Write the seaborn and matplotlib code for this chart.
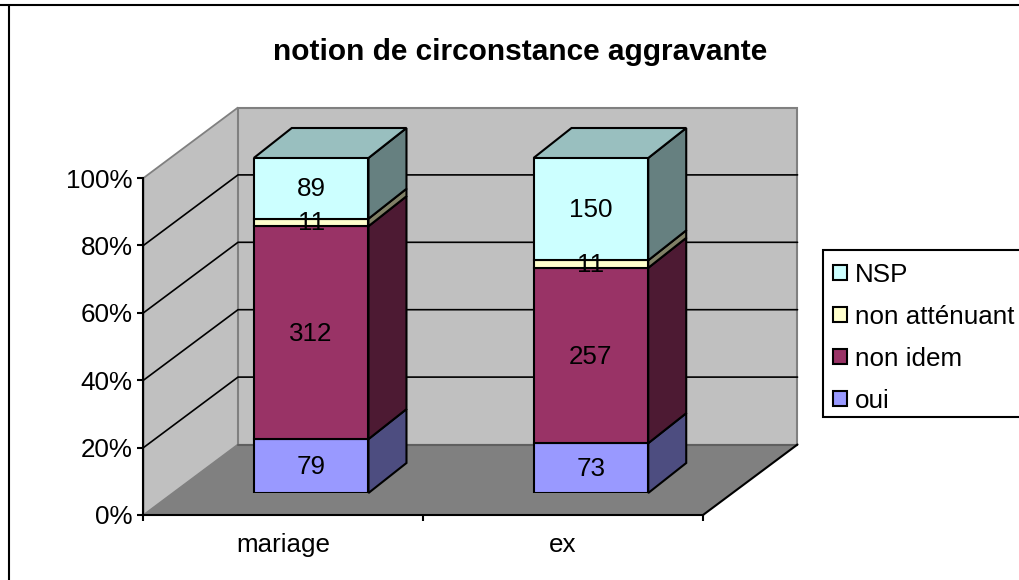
import numpy as np
import matplotlib
matplotlib.use('Agg')
import matplotlib.pyplot as plt
from matplotlib.patches import Polygon, Patch, Rectangle
import seaborn as sns

# --- DATA ---
categories = ['mariage', 'ex']
series_names = ['oui', 'non idem', 'non atténuant', 'NSP']
oui = [79, 73]
non_idem = [312, 257]
non_attenuant = [11, 11]
nsp = [89, 150]
y_ticks = [0, 20, 40, 60, 80, 100]

# --- STYLE ---
colors = ['#9999FF', '#993366', '#FFFFCC', '#CCFFFF']
W, H = 1020, 580
WALL_DX, WALL_DY = 94.5, 70.5    # px depth of the walls
BAR_DX, BAR_DY = 38, 30          # px depth of the bars
FONT = 18.7

sns.set_theme(style='white')
plt.rcParams['font.family'] = ['Liberation Sans', 'DejaVu Sans']


def px_axes(fig, left, right, top, bottom, **kw):
    """Add an axes using pixel edges measured from the top left."""
    return fig.add_axes([left / W, 1 - bottom / H, (right - left) / W, (bottom - top) / H], **kw)


def shade(color, factor):
    return tuple(c * factor for c in matplotlib.colors.to_rgb(color))


fig = plt.figure(figsize=(W / 100, H / 100), dpi=100, facecolor='white')

# --- WALLS, FLOOR, AXES (front plane of the box) ---
ax = px_axes(fig, 143.5, 703, 178, 515, zorder=1)
ax.patch.set_visible(False)
ax.set_xlim(-0.5, 1.5)
ax.set_ylim(0, 100)
dx = WALL_DX / (559.5 / 2)
dy = WALL_DY / 3.37

left_wall = [(-0.5, 0), (-0.5 + dx, dy), (-0.5 + dx, 100 + dy), (-0.5, 100)]
back_wall = [(-0.5 + dx, dy), (1.5 + dx, dy), (1.5 + dx, 100 + dy), (-0.5 + dx, 100 + dy)]
floor = [(-0.5, 0), (1.5, 0), (1.5 + dx, dy), (-0.5 + dx, dy)]
ax.add_patch(Polygon(left_wall, fc='#C0C0C0', ec='#808080', lw=1.3, clip_on=False, zorder=1))
ax.add_patch(Polygon(back_wall, fc='#C0C0C0', ec='#808080', lw=1.5, clip_on=False, zorder=1))
ax.add_patch(Polygon(floor, fc='#808080', ec='none', clip_on=False, zorder=1.5))
ax.plot([-0.5 + dx, 1.5 + dx], [dy, dy], color='#5F5F5F', lw=1.5, clip_on=False, zorder=1.6)
ax.plot([1.5, 1.5 + dx], [0, dy], color='black', lw=1.5, clip_on=False, zorder=1.6)
for v in y_ticks[1:-1]:
    ax.plot([-0.5, -0.5 + dx, 1.5 + dx], [v, v + dy, v + dy], color='black', lw=1.2,
            clip_on=False, zorder=1.7)

sns.despine(ax=ax)
for side in ['left', 'bottom']:
    ax.spines[side].set_color('black')
    ax.spines[side].set_linewidth(1.5)
    ax.spines[side].set_zorder(2)
ax.set_yticks(y_ticks)
ax.set_yticklabels([f'{v}%' for v in y_ticks], fontsize=FONT, color='black')
ax.set_xticks([-0.5, 0.5, 1.5])
ax.set_xticklabels([])
ax.set_xticks([0, 1], minor=True)
ax.set_xticklabels(categories, minor=True, fontsize=FONT, color='black')
ax.tick_params(axis='y', which='major', left=True, length=4, width=1.5, color='black', pad=4)
ax.tick_params(axis='x', which='major', bottom=True, length=4, width=1.5, color='black')
ax.tick_params(axis='x', which='minor', bottom=False, length=0, pad=13)

# --- BARS (front plane of the bars) ---
ax_bars = px_axes(fig, 171.25, 730.75, 158, 493, zorder=2)
ax_bars.patch.set_visible(False)

counts = np.array([oui, non_idem, non_attenuant, nsp], dtype=float)
pct = counts / counts.sum(axis=0) * 100
bottom = np.zeros(len(categories))
for i, name in enumerate(series_names):
    sns.barplot(x=categories, y=pct[i], bottom=bottom, color=colors[i], saturation=1,
                width=0.41, edgecolor='black', linewidth=1.5, ax=ax_bars, zorder=3)
    bottom = bottom + pct[i]

ax_bars.set_xlim(-0.5, 1.5)
ax_bars.set_ylim(0, 100)
bdx = BAR_DX / (559.5 / 2)
bdy = BAR_DY / 3.35

for n, bar in enumerate(ax_bars.patches):
    i, j = n // len(categories), n % len(categories)
    x0, y0, w, h = bar.get_x(), bar.get_y(), bar.get_width(), bar.get_height()
    side = [(x0 + w, y0), (x0 + w + bdx, y0 + bdy), (x0 + w + bdx, y0 + h + bdy), (x0 + w, y0 + h)]
    ax_bars.add_patch(Polygon(side, fc=shade(colors[i], 0.5), ec='black', lw=1.5,
                              clip_on=False, zorder=2))
    if i == len(series_names) - 1:
        top = [(x0, y0 + h), (x0 + w, y0 + h), (x0 + w + bdx, y0 + h + bdy), (x0 + bdx, y0 + h + bdy)]
        ax_bars.add_patch(Polygon(top, fc=shade(colors[i], 0.75), ec='black', lw=1.5,
                                  clip_on=False, zorder=2))
    ax_bars.text(x0 + w / 2, y0 + h / 2 - 0.3, f'{counts[i][j]:.0f}', ha='center', va='center',
                 fontsize=FONT, color='black', zorder=5)
ax_bars.axis('off')

# --- TITLE, LEGEND, CHART FRAME ---
fig.text(520 / W, 1 - 51.5 / H, 'notion de circonstance aggravante', ha='center', va='center',
         fontsize=21.5, fontweight='bold', color='black')

# legend box runs off the right edge, so its frame is drawn apart from the entries
fig.add_artist(Rectangle((823 / W, 1 - 417 / H), 210 / W, 167 / H, transform=fig.transFigure,
                         fc='white', ec='black', lw=1.5, zorder=1))
handles = [Patch(fc=colors[i], ec='black', lw=1.5, label=series_names[i]) for i in range(3, -1, -1)]
leg = fig.legend(handles=handles, loc='upper left', bbox_to_anchor=(823 / W, 1 - 253 / H),
                 borderaxespad=0, fontsize=FONT, frameon=False,
                 handlelength=0.54, handleheight=0.54, handletextpad=0.32,
                 labelspacing=0.69, borderpad=0.38)
for text in leg.get_texts():
    text.set_color('black')

fig.add_artist(plt.Line2D([0, 1], [1 - 4.5 / H, 1 - 4.5 / H], color='black', lw=1.5))
fig.add_artist(plt.Line2D([9 / W, 9 / W], [0, 1 - 4.5 / H], color='black', lw=1.5))

fig.savefig('out.png', dpi=100)
plt.close(fig)
